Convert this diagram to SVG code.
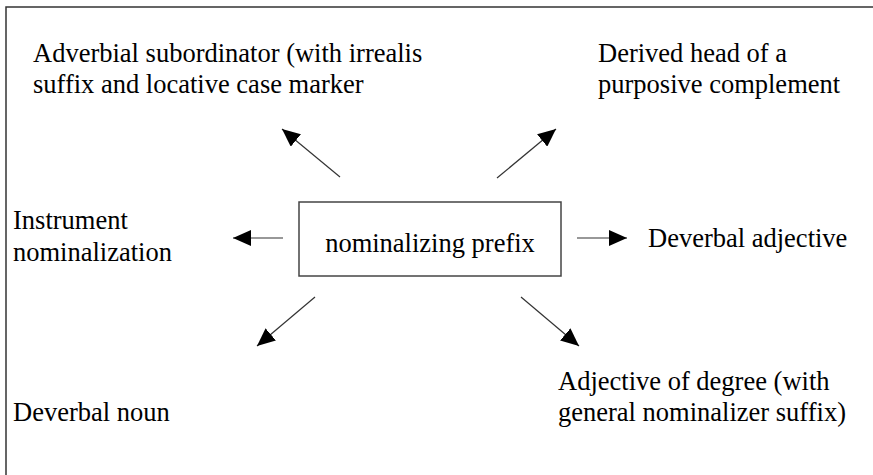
<svg xmlns="http://www.w3.org/2000/svg" width="873" height="475" viewBox="0 0 873 475">
<style>
text{font-family:"Liberation Serif","Times New Roman",serif;font-size:26.5px;fill:#000}
.c line{stroke:#333;stroke-width:1.2;marker-end:url(#ah)}
</style>
<defs>
<marker id="ah" markerUnits="userSpaceOnUse" markerWidth="20" markerHeight="16" viewBox="0 0 20 16" refX="18" refY="8" orient="auto">
<path d="M0,0 L18,8 L0,16 Z" fill="#000"/>
</marker>
</defs>
<rect width="873" height="475" fill="#fff"/>
<path d="M6,480 V7 H880" fill="none" stroke="#333" stroke-width="1.5"/>
<g id="center"><rect x="299" y="202" width="262" height="74" fill="#fff" stroke="#444" stroke-width="1.5"/><text x="430" y="252" text-anchor="middle">nominalizing prefix</text></g>
<g id="adverbial"><text x="33" y="62">Adverbial subordinator (with irrealis</text><text x="33" y="93">suffix and locative case marker</text></g>
<g id="derived"><text x="598" y="62">Derived head of a</text><text x="598" y="93">purposive complement</text></g>
<g id="instrument"><text x="13" y="229">Instrument</text><text x="13" y="261">nominalization</text></g>
<g id="deverbal-adj"><text x="648" y="247">Deverbal adjective</text></g>
<g id="deverbal-noun"><text x="13" y="421">Deverbal noun</text></g>
<g id="adj-degree"><text x="558" y="390">Adjective of degree (with</text><text x="558" y="421">general nominalizer suffix)</text></g>
<g class="c" id="connectors">
<line x1="340" y1="177" x2="282" y2="129"/>
<line x1="497" y1="178" x2="556" y2="129"/>
<line x1="283" y1="238" x2="233" y2="238"/>
<line x1="577" y1="238" x2="627" y2="238"/>
<line x1="315" y1="297" x2="257" y2="346"/>
<line x1="521" y1="297" x2="579" y2="346"/>
</g>
</svg>
